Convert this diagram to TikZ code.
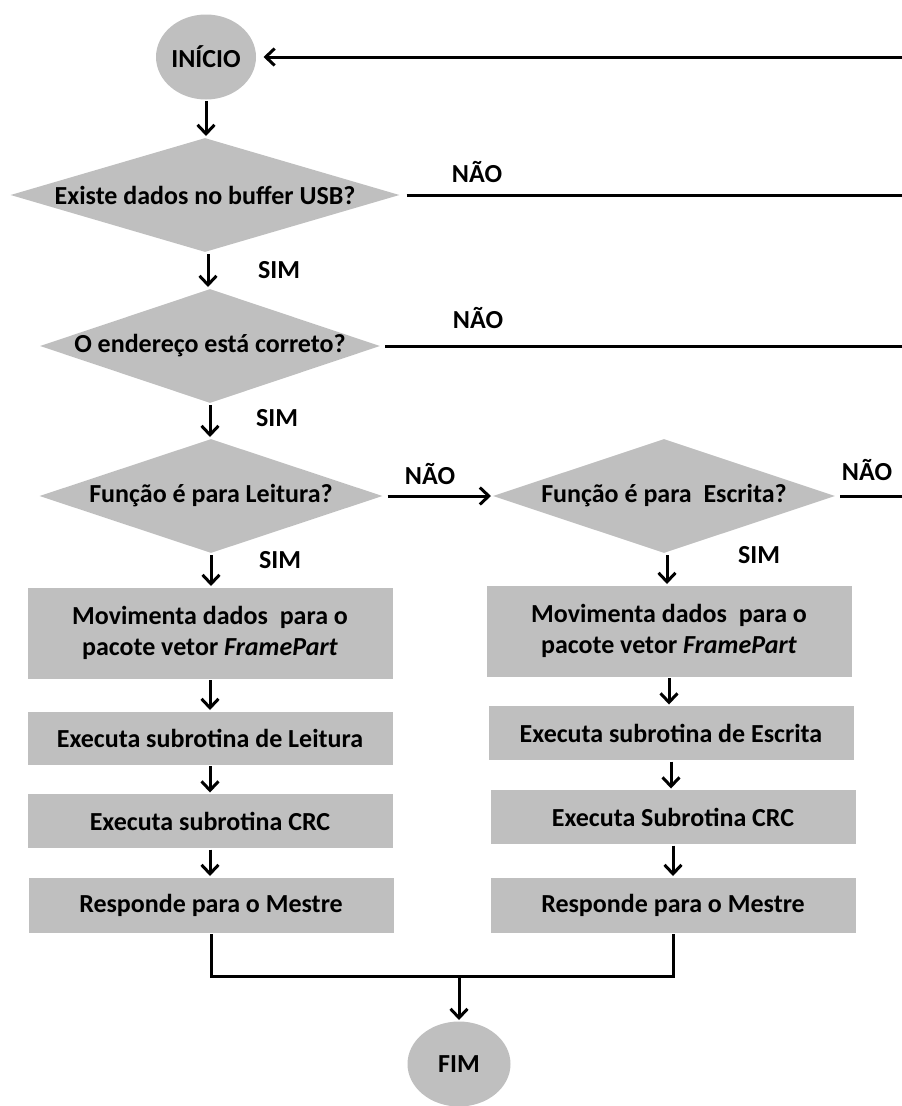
\documentclass[tikz,border=0pt]{standalone}
\usepackage{fontspec}
\setmainfont{Carlito}
\usetikzlibrary{shapes.geometric,arrows.meta}
\definecolor{shapegray}{HTML}{BFBFBF}

\begin{document}
\begin{tikzpicture}[x=1pt,y=-1pt,
    font=\fontsize{26}{31}\selectfont\bfseries,
    line width=3pt,
    flow/.style={-{Straight Barb[length=9pt,width=17pt]}},
    terminal/.style={ellipse,fill=shapegray,minimum width=100pt,minimum height=85pt,inner sep=0pt},
    decision/.style={diamond,fill=shapegray,minimum height=115pt,inner sep=0pt},
    process/.style={rectangle,fill=shapegray,minimum width=365pt,inner sep=0pt,align=center}]
    \useasboundingbox (0,0) rectangle (902,1106);
    \coordinate (rim) at (902,57);

    % left column
    \node[terminal] (inicio) at (206,57) {INÍCIO};
    \node[decision,minimum width=390pt,label={center:Existe dados no buffer USB?}] (buffer) at (205,195) {};
    \node[decision,minimum width=341pt,label={center:O endereço está correto?}] (ender) at (210,346) {};
    \node[decision,minimum width=344pt,label={center:Função é para Leitura?}] (leit) at (211,496) {};
    \node[process,minimum height=91pt] (movL) at (210,633) {Movimenta dados\ \ para o\\pacote vetor \textit{FramePart}};
    \node[process,minimum height=53pt] (exeL) at (210,738) {Executa subrotina de Leitura};
    \node[process,minimum height=54pt] (crcL) at (210,821) {Executa subrotina CRC};
    \node[process,minimum height=55pt] (respL) at (211,905) {Responde para o Mestre};

    % right column
    \node[decision,minimum width=343pt,label={center:Função é para\ \ Escrita?}] (escr) at (664,496) {};
    \node[process,minimum height=91pt] (movR) at (669,631) {Movimenta dados\ \ para o\\pacote vetor \textit{FramePart}};
    \node[process,minimum height=54pt] (exeR) at (671,733) {Executa subrotina de Escrita};
    \node[process,minimum height=54pt] (crcR) at (673,817) {Executa Subrotina CRC};
    \node[process,minimum height=55pt] (respR) at (673,905) {Responde para o Mestre};

    \node[terminal,minimum width=103pt] (fim) at (459,1064) {FIM};

    % answers
    \node (nao1) at (477,172) {NÃO};
    \node (nao2) at (478,318) {NÃO};
    \node (nao3) at (430,474) {NÃO};
    \node (nao4) at (867,470) {NÃO};
    \node (sim1) at (279,270) {SIM};
    \node (sim2) at (277,418) {SIM};
    \node (sim3) at (280,560) {SIM};
    \node (sim4) at (759,555) {SIM};

    % connectors
    \draw[flow,shorten >=6pt] (rim) -- (inicio.east);
    \draw[flow] (inicio.south) -- (inicio.south |- buffer.north);
    \draw[flow] ([xshift=3pt]buffer.south) -- ([xshift=3pt]buffer.south |- ender.north);
    \draw[flow] (ender.south) -- (ender.south |- leit.north);
    \draw[flow] (leit.south) -- (leit.south |- movL.north);
    \draw[flow] (movL.south) -- (movL.south |- exeL.north);
    \draw[flow] (exeL.south) -- (exeL.south |- crcL.north);
    \draw[flow] (crcL.south) -- (crcL.south |- respL.north);
    \draw[flow] ([xshift=3pt]escr.south) -- ([xshift=3pt]escr.south |- movR.north);
    \draw[flow] (movR.south) -- (movR.south |- exeR.north);
    \draw[flow] (exeR.south) -- (exeR.south |- crcR.north);
    \draw[flow] (crcR.south) -- (crcR.south |- respR.north);

    \draw[shorten <=5pt] (buffer.east) -- (buffer.east -| rim);
    \draw[shorten <=3pt] (ender.east) -- (ender.east -| rim);
    \draw[flow,shorten <=3pt] (leit.east) -- (escr.west);
    \draw[shorten <=3pt] (escr.east) -- (escr.east -| rim);

    \coordinate (join) at (459,976);
    \draw (respL.south) |- (join) -| (respR.south);
    \draw[flow] (join) -- (fim.north);
\end{tikzpicture}
\end{document}
